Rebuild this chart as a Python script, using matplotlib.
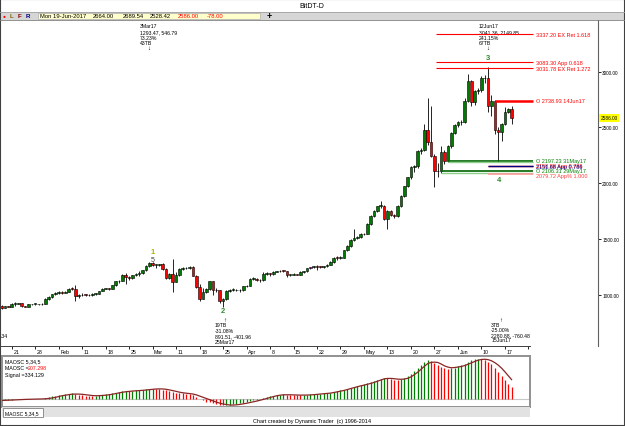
import numpy as np
import pandas as pd
import matplotlib
matplotlib.use("Agg")
import matplotlib.pyplot as plt
import matplotlib.transforms as mtransforms
from matplotlib.patches import Rectangle

plt.rcParams['font.family'] = ['Liberation Sans', 'DejaVu Sans']

# ---------------------------------------------------------------------------
# DATA (daily bars 18-Jan-2017 .. 19-Jun-2017)
dates = pd.date_range("2017-01-18", "2017-06-19", freq="D")

opens = [900, 885, 896, 892, 918, 920, 922, 895, 893, 914, 917, 918, 913, 919,
         962, 982, 1003, 1012, 1026, 1016, 1027, 1052, 1050, 990, 995, 1000, 998, 995,
         1008, 1010, 1033, 1052, 1058, 1055, 1085, 1120, 1124, 1178, 1160, 1148, 1176, 1190,
         1192, 1220, 1255, 1285, 1268, 1270, 1275, 1235, 1150, 1190, 1115, 1178, 1228, 1238,
         1242, 1250, 1172, 1068, 965, 1025, 1048, 1120, 1045, 1040, 940, 962, 1035, 1042,
         1045, 1040, 1038,
         1075, 1082, 1142, 1145, 1135, 1130, 1188, 1192, 1183, 1208, 1210, 1215, 1212, 1178,
         1180, 1182, 1181, 1203, 1210, 1236, 1246, 1255, 1250, 1248, 1255, 1268, 1290, 1330,
         1328, 1332,
         1398, 1436, 1490, 1512, 1514, 1543, 1548, 1633, 1708, 1752, 1795, 1800, 1680, 1752,
         1715, 1708, 1797, 1886, 1971, 2052, 2142, 2150, 2291, 2300, 2476, 2368, 2246, 2111,
         2106.31, 2282, 2197.23,
         2330, 2450, 2520, 2545, 2548, 2740, 2919, 2728, 2826, 2840, 2941, 2943, 2689, 2738.93,
         2475, 2462, 2532, 2640, 2664]
highs = [905, 902, 902, 925, 932, 926, 925, 900, 918, 921, 922, 920, 923, 968,
         988, 1008, 1021, 1032, 1031, 1033, 1058, 1068, 1085, 1003, 1011, 1006, 1009, 1013,
         1013, 1037, 1058, 1063, 1061, 1090, 1126, 1133, 1183, 1196, 1170, 1181, 1196, 1210,
         1226, 1263, 1293.47, 1290, 1276, 1279, 1281, 1240, 1196, 1320, 1200, 1236, 1246, 1251,
         1258, 1262, 1176, 1100, 1062, 1056, 1126, 1126, 1062, 1046, 975, 1046, 1051, 1056,
         1051, 1049, 1082,
         1091, 1151, 1161, 1151, 1141, 1200, 1201, 1198, 1216, 1216, 1226, 1221, 1215, 1190,
         1191, 1187, 1210, 1216, 1240, 1250, 1262, 1265, 1258, 1262, 1276, 1300, 1340, 1346,
         1346, 1402,
         1442, 1498, 1588, 1530, 1550, 1557, 1640, 1715, 1760, 1800, 1842, 1806, 1760, 1762,
         1728, 1805, 1892, 1978, 2060, 2150, 2165, 2300, 2320, 2530, 2760, 2690, 2265, 2180,
         2330, 2300, 2345,
         2460, 2530, 2560, 2570, 2760, 2980, 2930, 2840, 2855, 2960, 2970, 3041.36, 2790, 2750,
         2500, 2540, 2680, 2675, 2689.54]
lows = [868, 880, 886, 888, 902, 914, 888, 886, 890, 907, 911, 907, 909, 917,
        956, 975, 995, 1004, 1005, 1011, 1024, 1038, 948, 975, 989, 991, 984, 989,
        1000, 1007, 1029, 1047, 1044, 1050, 1081, 1104, 1119, 1100, 1134, 1139, 1170, 1172,
        1188, 1214, 1249, 1254, 1240, 1261, 1220, 1140, 1145, 1020, 1110, 1170, 1220, 1228,
        1235, 1165, 1063, 945, 958, 1014, 1040, 1000, 1025, 930, 891.51, 955, 1025, 1030,
        1030, 1025, 1035,
        1068, 1078, 1130, 1125, 1115, 1127, 1178, 1170, 1180, 1200, 1205, 1207, 1160, 1170,
        1175, 1174, 1178, 1198, 1205, 1232, 1240, 1226, 1240, 1244, 1250, 1264, 1284, 1310,
        1320, 1326,
        1390, 1430, 1482, 1496, 1508, 1532, 1542, 1625, 1700, 1745, 1780, 1672, 1588, 1705,
        1690, 1700, 1790, 1878, 1962, 2040, 2105, 2140, 2265, 2290, 2340, 2235, 1962, 2060,
        2090, 2170, 2190,
        2320, 2440, 2500, 2520, 2540, 2731, 2695, 2700, 2800, 2817, 2900, 2640, 2600, 2440,
        2190, 2380, 2520, 2630, 2528.42]
closes = [885, 896, 892, 918, 920, 922, 895, 893, 914, 917, 918, 913, 919, 962,
          982, 1003, 1012, 1026, 1016, 1027, 1052, 1050, 990, 995, 1000, 998, 995, 1008,
          1010, 1033, 1052, 1058, 1055, 1085, 1120, 1124, 1178, 1160, 1148, 1176, 1190, 1192,
          1220, 1255, 1285, 1268, 1270, 1275, 1235, 1150, 1190, 1115, 1178, 1228, 1238, 1242,
          1250, 1172, 1068, 965, 1025, 1048, 1120, 1045, 1040, 940, 962, 1035, 1042, 1045,
          1040, 1038, 1075,
          1082, 1142, 1145, 1135, 1130, 1188, 1192, 1183, 1208, 1210, 1215, 1212, 1178, 1180,
          1182, 1181, 1203, 1210, 1236, 1246, 1255, 1250, 1248, 1255, 1268, 1290, 1330, 1328,
          1332, 1398,
          1436, 1490, 1512, 1514, 1543, 1548, 1633, 1708, 1752, 1795, 1800, 1680, 1752, 1715,
          1708, 1797, 1886, 1971, 2052, 2142, 2150, 2291, 2300, 2476, 2368, 2246, 2111, 2106,
          2282, 2197, 2330,
          2450, 2520, 2545, 2548, 2740, 2919, 2728, 2826, 2840, 2941, 2943, 2689, 2739, 2475,
          2462, 2532, 2640, 2664, 2586]
marked_bar = "2017-04-20"   # magenta bar

# MAOSC 5,34,5 histogram and its signal line
maosc = [-15, -12, -10, -5, 0, 5, 2, -2, 3, 6, 8, 7, 9, 20,
         35, 50, 62, 75, 80, 85, 95, 100, 85, 75, 68, 62, 58, 56, 60, 70, 80,
         88, 90, 100, 115, 122, 140, 142, 140, 145, 150, 152,
         160, 172, 180, 182, 178, 175, 165, 150, 140, 120, 110, 105, 100, 95, 88, 70, 40,
         5, -20, -40, -45, -60, -80, -100, -105, -100, -95, -88, -80, -70, -60,
         -50, -35, -20, -10, 5, 20, 35, 50, 62, 72, 80,
         82, 78, 74, 72, 70, 68, 72, 76, 82, 88, 92, 95, 100, 105, 112, 125, 138, 150, 165,
         182, 200, 215, 228, 240, 255, 272, 290, 310, 330, 350, 365,
         355, 345, 335, 330, 340, 360, 390, 430, 480, 530, 580, 630, 665,
         650, 615, 580, 555, 530, 520,
         525, 540, 560, 575, 600, 640, 660, 680, 690,
         685, 670, 640, 600, 540, 470, 400, 330, 260, 207.298]
signal = [-20, -18, -16, -13, -10, -7, -4, -2, 0, 2, 3, 4, 6, 9,
          14, 22, 33, 46, 60, 70, 79, 87, 89, 88, 85, 78, 70, 64, 61, 61, 65,
          70, 77, 86, 97, 107, 120, 128, 134, 140, 144, 148,
          152, 158, 165, 171, 175, 177, 176, 170, 160, 148, 135, 121, 111, 104, 98, 90, 76,
          55, 32, 12, -8, -30, -48, -65, -80, -90, -97, -98, -94, -87, -78,
          -68, -55, -43, -31, -17, -2, 14, 30, 46, 60, 70,
          76, 77, 77, 75, 73, 71, 71, 72, 74, 78, 84, 89, 94, 99, 105, 115, 126, 138, 150,
          165, 182, 197, 213, 228, 240, 255, 270, 287, 307, 328, 347,
          355, 355, 350, 343, 340, 344, 356, 380, 418, 460, 510, 560, 607,
          627, 632, 626, 600, 568, 548,
          536, 540, 548, 558, 573, 595, 618, 643, 664,
          677, 681, 674, 655, 623, 582, 530, 468, 400, 334.129]

tick_dates = pd.date_range("2017-01-21", "2017-06-24", freq="7D")
tick_labels = ["21", "28", "Feb", "11", "18", "25", "Mar", "11", "18", "25", "Apr", "8",
               "15", "22", "29", "May", "13", "20", "27", "Jun", "10", "17", "24"]
price_ticks = [1000, 1500, 2000, 2500, 3000]

# projected levels on the right
level_prices = [3337.20, 3083.30, 3031.78, 2738.93, 2197.23, 2158.88, 2151.68, 2106.31, 2079.72]
level_labels = ["3337.20 EX Ret 1.618", "3083.30 App 0.618", "3031.78 EX Ret 1.272",
                "O 2738.93 14Jun17", "O 2197.23 31May17", "2158.88 App 0.786",
                "2151.68 App 0.786", "O 2106.31 29May17", "2079.72 App% 1.000"]
level_start = ["2017-05-27", "2017-05-27", "2017-05-27", "2017-06-14", "2017-05-31",
               "2017-06-12", "2017-06-12", "2017-05-29", "2017-06-12"]
level_colors = ['#ff0000', '#ff0000', '#ff0000', '#ff0000', '#006400',
                '#ff0000', '#000080', '#006400', '#ff9a9a']
level_text_colors = ['#ff0000', '#ff0000', '#ff0000', '#ff0000', '#008000',
                     '#ff0000', '#000080', '#008000', '#ff3c3c']
level_widths = [0.8, 0.8, 0.8, 1.8, 1.2, 1.0, 1.0, 1.2, 1.2]
# small vertical nudges (px) so the stacked labels stay readable
level_label_dy = [0, 0, 0, 0, -0.5, 0, 0, -1.2, 1.6]

# ---------------------------------------------------------------------------
# LAYOUT helpers (pixel geometry of the 625x427 picture)
W, H = 625, 427
X0_PX, PX_PER_DAY = 11.7, 3.355   # 21-Jan sits at 11.7 px


def day_at(px):
    return 21 + (px - X0_PX) / PX_PER_DAY


def fx(px):
    return px / W


def fy(px):
    return 1 - px / H


day = np.asarray(dates.dayofyear, dtype=float)
o = np.array(opens, float)
h = np.array(highs, float)
l = np.array(lows, float)
c = np.array(closes, float)

fig = plt.figure(figsize=(6.25, 4.27), dpi=100)
fig.patch.set_facecolor('white')

# ---------------------------------------------------------------------------
# MAIN PRICE PANEL
ax = fig.add_axes([0, fy(347), fx(598), (347 - 21) / H])
ax.set_xlim(day_at(0), day_at(598))
ax.set_ylim(540, 3464)
for s in ['top', 'left', 'bottom']:
    ax.spines[s].set_visible(False)
ax.spines['right'].set_color('#606060')
ax.spines['right'].set_linewidth(0.8)
ax.set_xticks([])
ax.yaxis.tick_right()
ax.set_yticks(price_ticks)
ax.set_yticklabels([f"{v:.2f}" for v in price_ticks])
ax.tick_params(axis='y', direction='out', length=2, width=0.6, pad=1, labelsize=3.4)

up = c >= o
body_col = np.where(up, '#007a00', '#ff0000').astype(object)
body_col[dates == pd.Timestamp(marked_bar)] = '#ff00ff'
ax.vlines(day, l, h, color='black', lw=0.6, zorder=2)
ax.bar(day, np.maximum(np.abs(c - o), 6), bottom=np.minimum(o, c), width=0.78,
       color=list(body_col), edgecolor='black', linewidth=0.4, zorder=3)

# level lines
end_day = day_at(533)
lab_day = day_at(536)
for p, lab, st, col, tcol, lw, dy in zip(level_prices, level_labels, level_start,
                                         level_colors, level_text_colors, level_widths,
                                         level_label_dy):
    d0 = pd.Timestamp(st).dayofyear + (0.5 if lab.startswith("3") else 0)
    ax.hlines(p, d0, end_day, color=col, lw=lw, zorder=4)
    if col == '#006400':
        ax.hlines(p - 11, d0, end_day, color='#8fd08f', lw=1.0, zorder=4)
    t = mtransforms.offset_copy(ax.transData, fig=fig, x=0, y=-dy, units='dots')
    ax.text(lab_day, p, lab, color=tcol, fontsize=4, va='center', ha='left',
            clip_on=False, transform=t)

# current price box
ax.text(1.004, c[-1], f"{c[-1]:.2f}", transform=mtransforms.blended_transform_factory(
    ax.transAxes, ax.transData), fontsize=3.4, va='center', ha='left', clip_on=False,
    bbox=dict(boxstyle='square,pad=0.25', fc='#ffff00', ec='none'))

# annotations
tr = mtransforms.blended_transform_factory(ax.transData, fig.transFigure)


def note(date, y_px, s, dx=0, **kw):
    t = mtransforms.offset_copy(tr, fig=fig, x=dx, y=0, units='dots')
    kw.setdefault('fontsize', 3.7)
    kw.setdefault('va', 'center')
    ax.text(pd.Timestamp(date).dayofyear, fy(y_px), s, transform=t, clip_on=False, **kw)


for y, s in zip([27, 32.5, 38, 43.5], ["3Mar17", "1293.47, 546.79", "73.23%", "43TB"]):
    note("2017-03-03", y, s, dx=-9)
note("2017-03-03", 48.5, "\u2193", ha='center', fontsize=4.5)
for y, s in zip([27, 32.5, 38, 43.5], ["12Jun17", "3041.36, 2149.85", "241.15%", "67TB"]):
    note("2017-06-12", y, s, dx=-9)
note("2017-06-12", 49, "\u2193", ha='center', fontsize=4.5)
note("2017-03-25", 320, "\u2191", ha='center', dx=1.5, fontsize=4.5)
for y, s in zip([326, 331.5, 337, 342.5], ["19TB", "-31.08%", "891.51, -401.96", "25Mar17"]):
    note("2017-03-25", y, s, dx=-8)
note("2017-06-15", 320, "\u2191", ha='center', dx=3, fontsize=4.5)
for y, s in zip([325.5, 330.5, 335.5, 340.5], ["3TB", "-25.00%", "2280.88, -760.48", "15Jun17"]):
    note("2017-06-15", y, s, dx=-7)

# wave counts
note("2017-03-03", 253, "1", ha='center', dx=3, fontsize=5.5, color='#b0b000', fontweight='bold')
note("2017-03-03", 260.5, "5", ha='center', dx=3, fontsize=5, color='#404040')
note("2017-03-25", 311.5, "2", ha='center', fontsize=5.5, color='#2e8b2e', fontweight='bold')
note("2017-06-12", 59, "3", ha='center', fontsize=5.5, color='#2e8b2e', fontweight='bold')
note("2017-06-15", 181, "4", ha='center', dx=1, fontsize=5.5, color='#2e8b2e', fontweight='bold')
fig.text(fx(0.5), fy(337), ".34", fontsize=3.7, va='center')

# ---------------------------------------------------------------------------
# DATE ROW
axd = fig.add_axes([0, fy(356), fx(530), 9 / H])
axd.set_xlim(day_at(0), day_at(530))
axd.set_ylim(0, 1)
for s in ['bottom', 'left', 'right']:
    axd.spines[s].set_visible(False)
axd.spines['top'].set_color('#404040')
axd.spines['top'].set_linewidth(0.7)
axd.set_yticks([])
axd.xaxis.tick_top()
tdays = np.asarray(tick_dates.dayofyear, dtype=float)
axd.set_xticks(tdays)
axd.tick_params(axis='x', direction='in', length=2.5, width=0.6, labeltop=False)
for d, lab in zip(tdays, tick_labels):
    axd.text(d + 0.45, 0.42, lab, fontsize=3.8, va='center', ha='left', clip_on=True)

# ---------------------------------------------------------------------------
# OSCILLATOR PANEL
axo = fig.add_axes([fx(2), fy(408), fx(528), 51 / H])
axo.set_xlim(day_at(2), day_at(530))
axo.set_ylim(-131, 736)
axo.set_xticks([])
axo.set_yticks([])
for s in axo.spines.values():
    s.set_color('#909090')
    s.set_linewidth(1.4)
m = np.array(maosc, float)
rising = np.concatenate([[True], m[1:] >= m[:-1]])
axo.axhline(0, color='#c8c8c8', lw=0.8, zorder=1)
axo.vlines(day, 0, m, colors=np.where(rising, '#008000', '#ff0000'), lw=0.9, zorder=2)
axo.plot(day, signal, color='#8b2525', lw=0.9, zorder=3)

fig.text(fx(5), fy(362), "MAOSC 5,34,5", fontsize=3.8, va='center')
fig.text(fx(5), fy(369), "MAOSC =", fontsize=3.8, va='center')
fig.text(fx(27.5), fy(369), f"{maosc[-1]:.3f}", fontsize=3.8, va='center', color='#ff0000')
fig.text(fx(5), fy(376), f"Signal ={signal[-1]:.3f}", fontsize=3.8, va='center')

# tab strip + footer
fig.add_artist(Rectangle((fx(2), fy(418)), fx(528), 10 / H, transform=fig.transFigure,
                         fc='#e2e2e2', ec='none'))
fig.add_artist(Rectangle((fx(3), fy(417.5)), fx(40), 8.5 / H, transform=fig.transFigure,
                         fc='white', ec='#808080', lw=0.6))
fig.text(fx(5), fy(413.5), "MAOSC 5,34,5", fontsize=3.6, va='center')
fig.text(fx(312), fy(421.5), "Chart created by Dynamic Trader  (c) 1996-2014",
         fontsize=4, ha='center', va='center')

# ---------------------------------------------------------------------------
# TITLE + TOOLBAR
fig.text(fx(312), fy(6.3), "BitDT-D", fontsize=5, ha='center', va='center')
fig.add_artist(Rectangle((0, fy(20.7)), 1, 8 / H, transform=fig.transFigure,
                         fc='#d6d6d6', ec='none'))
fig.add_artist(plt.Line2D([0, 1], [fy(12.7), fy(12.7)], transform=fig.transFigure,
                          color='#a0a0a0', lw=0.6))
fig.add_artist(plt.Line2D([0, 1], [fy(20.9), fy(20.9)], transform=fig.transFigure,
                          color='#808080', lw=0.6))
fig.add_artist(Rectangle((fx(38), fy(20)), fx(222), 6.5 / H, transform=fig.transFigure,
                         fc='#ffffcc', ec='#b0b0b0', lw=0.5))
fig.text(fx(4.5), fy(16.8), "\u25cf", fontsize=3.5, color='#ff0000', ha='center', va='center')
fig.text(fx(10), fy(16.8), "L", fontsize=4.5, color='#806000', fontweight='bold', va='center')
fig.text(fx(18), fy(16.8), "F", fontsize=4.5, color='#800000', fontweight='bold', va='center')
fig.text(fx(26), fy(16.8), "R", fontsize=4.5, color='#000080', fontweight='bold', va='center')
bar_text = ["Mon 19-Jun-2017", f"{o[-1]:.2f}", f"{h[-1]:.2f}", f"{l[-1]:.2f}",
            f"{c[-1]:.2f}", f"{c[-1] - c[-2]:.2f}"]
bar_x = [40, 93, 123, 150, 178, 207]
bar_col = ['black', 'black', 'black', 'black', '#ff0000', '#ff0000']
for s, x, col in zip(bar_text, bar_x, bar_col):
    fig.text(fx(x), fy(16.8), s, fontsize=4.2, color=col, va='center')
fig.text(fx(267), fy(16.5), "+", fontsize=6.5, fontweight='bold', va='center')

fig.add_artist(Rectangle((0, 0), 1, 1, transform=fig.transFigure, fill=False,
                         ec='#404040', lw=1.5))

fig.savefig("out.png", dpi=100)
